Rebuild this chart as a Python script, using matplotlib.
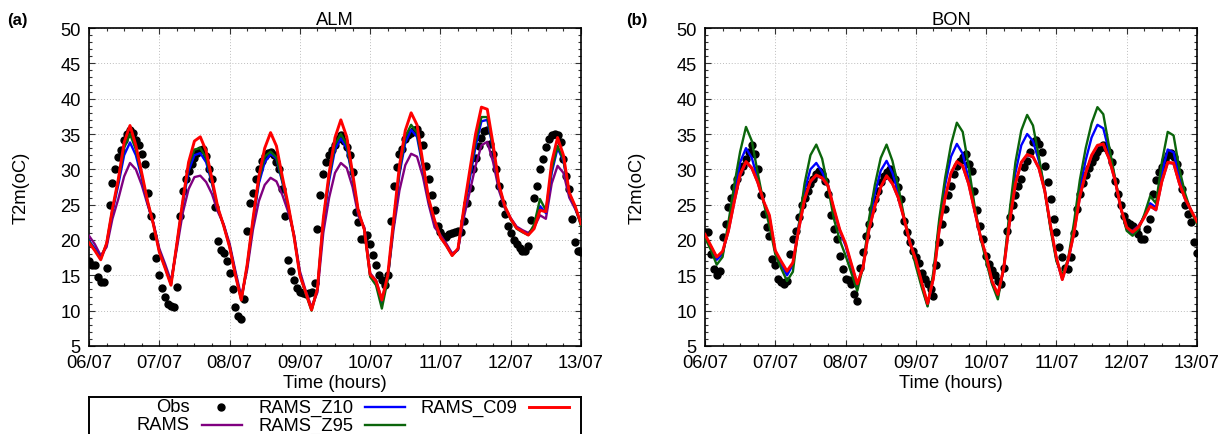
import numpy as np
import matplotlib
matplotlib.use("Agg")
import matplotlib.pyplot as plt
from matplotlib.ticker import MultipleLocator, FixedLocator

plt.rcParams["font.family"] = ["Liberation Sans", "DejaVu Sans"]

# Eje temporal: obs horarias, modelos cada 2 h (06/07 00h -> 13/07 00h)
DAY_LABELS = ["06/07", "07/07", "08/07", "09/07", "10/07", "11/07", "12/07", "13/07"]
STATIONS = ["ALM", "BON"]
PANELS = ["(a)", "(b)"]

# ---------------- ALM ----------------
alm_obs = [
    17.0, 16.4, 16.5, 14.8, 14.0, 14.0, 16.1, 24.9, 28.1, 30.0, 31.7, 32.8,
    34.1, 35.0, 35.6, 35.2, 34.2, 33.4, 32.2, 30.8, 26.7, 23.4, 20.5, 17.5,
    15.0, 13.2, 12.0, 11.0, 10.6, 10.5, 13.3, 23.4, 26.9, 28.6, 29.7, 30.7,
    31.6, 32.3, 32.8, 32.9, 31.9, 30.0, 28.6, 24.6, 19.8, 18.6, 18.2, 17.0,
    15.3, 13.0, 10.5, 9.2, 8.8, 11.6, 21.3, 25.3, 26.7, 28.6, 30.0, 31.2,
    31.9, 32.3, 32.4, 32.0, 31.0, 30.0, 27.2, 23.4, 17.2, 15.6, 14.4, 13.2,
    12.7, 12.5, 12.3, 12.5, 12.7, 13.9, 21.5, 26.4, 29.3, 31.1, 32.0, 32.8,
    33.5, 34.3, 34.8, 34.0, 33.1, 32.0, 29.6, 24.0, 22.5, 20.2, 20.2, 20.7,
    19.4, 17.9, 16.4, 15.1, 14.4, 13.6, 15.1, 22.7, 27.7, 30.3, 32.2, 32.9,
    34.3, 34.8, 35.2, 35.5, 35.7, 35.0, 33.4, 30.5, 28.6, 26.3, 24.2, 22.0,
    21.1, 20.6, 20.4, 20.8, 21.0, 21.2, 21.3, 21.2, 22.7, 25.3, 27.4, 30.0,
    31.6, 33.3, 34.5, 35.4, 35.5, 33.6, 32.2, 30.0, 27.7, 25.3, 23.7, 22.0,
    21.0, 20.0, 19.4, 18.8, 18.4, 18.4, 19.2, 22.9, 26.0, 27.7, 30.0, 31.5,
    33.1, 34.3, 34.8, 35.0, 34.8, 33.8, 31.5, 29.1, 27.2, 23.0, 19.7, 18.5,
    18.3,
]
alm_rams = [
    20.6, 19.4, 17.8, 19.0, 23.0, 25.8, 29.0, 30.9, 30.0, 27.8, 25.0, 22.4,
    18.8, 16.6, 14.2, 18.8, 23.8, 27.2, 28.9, 29.1, 28.2, 26.5, 24.0, 22.2,
    19.5, 15.6, 12.0, 15.8, 21.5, 25.5, 27.8, 28.8, 28.3, 26.4, 24.0, 20.8,
    15.6, 12.8, 10.5, 12.6, 21.0, 26.0, 29.5, 30.9, 30.2, 27.5, 23.4, 21.8,
    15.3, 14.3, 11.6, 14.6, 21.5, 27.0, 30.6, 32.2, 31.8, 29.0, 25.0, 21.8,
    20.7, 19.5, 18.1, 18.6, 23.2, 26.8, 30.5, 33.4, 33.9, 31.0, 27.0, 24.5,
    23.1, 21.9, 21.4, 21.0, 21.8, 23.5, 23.0, 28.0, 30.5, 29.5, 26.0, 24.4,
    22.4,
]
alm_z10 = [
    19.9, 18.8, 17.4, 19.3, 24.0, 27.8, 32.0, 33.8, 32.0, 28.8, 25.2, 22.3,
    18.5, 16.2, 13.8, 19.3, 25.0, 29.8, 32.0, 32.3, 31.0, 28.0, 24.4, 22.1,
    19.2, 15.3, 11.6, 16.2, 22.6, 28.0, 31.0, 32.2, 31.5, 28.2, 24.7, 20.6,
    15.2, 12.5, 10.2, 13.0, 22.5, 28.4, 32.8, 34.4, 33.0, 28.8, 23.8, 21.6,
    15.0, 13.9, 11.0, 14.6, 22.3, 29.3, 33.8, 35.6, 34.6, 30.3, 25.5, 22.6,
    20.5, 19.3, 17.9, 18.6, 24.0, 28.6, 33.2, 36.8, 37.0, 32.8, 27.5, 24.7,
    23.0, 21.8, 21.2, 20.8, 21.8, 24.8, 23.8, 29.5, 33.0, 31.2, 26.5, 24.6,
    22.2,
]
alm_z95 = [
    19.8, 18.6, 17.3, 19.5, 24.3, 28.3, 33.0, 35.0, 32.8, 29.2, 25.4, 22.2,
    18.4, 16.1, 13.7, 19.4, 25.3, 30.5, 32.8, 33.0, 31.6, 28.2, 24.5, 22.0,
    19.1, 15.1, 11.5, 16.4, 22.8, 28.5, 31.8, 32.5, 31.7, 28.4, 24.8, 20.5,
    15.1, 12.4, 10.0, 13.2, 22.8, 29.0, 33.5, 35.0, 33.5, 29.0, 23.9, 21.5,
    14.8, 13.6, 10.3, 14.4, 22.6, 29.8, 34.6, 36.3, 35.2, 30.6, 25.6, 22.7,
    20.4, 19.2, 17.8, 18.7, 24.3, 29.2, 34.0, 37.4, 37.4, 33.0, 27.6, 24.7,
    22.9, 21.6, 21.1, 20.7, 22.2, 25.8, 24.2, 30.0, 33.3, 31.4, 26.6, 24.7,
    22.0,
]
alm_c09 = [
    19.6, 18.5, 17.2, 19.5, 24.4, 28.6, 33.8, 36.2, 33.4, 29.5, 25.5, 22.2,
    18.3, 16.0, 13.6, 19.5, 25.5, 31.0, 34.0, 34.6, 32.6, 28.6, 24.6, 22.0,
    19.0, 15.0, 11.5, 16.5, 23.0, 29.0, 33.0, 35.2, 33.3, 29.0, 25.0, 20.5,
    15.0, 12.6, 10.1, 13.1, 23.0, 29.5, 34.5, 37.0, 34.6, 29.5, 24.0, 21.5,
    15.1, 14.2, 11.5, 15.0, 22.8, 30.5, 35.5, 38.0, 36.3, 31.0, 25.8, 22.8,
    20.4, 19.2, 17.8, 18.8, 24.5, 29.8, 35.0, 38.8, 38.5, 33.5, 27.8, 24.8,
    23.0, 21.7, 21.2, 20.7, 21.6, 24.2, 24.0, 31.0, 34.5, 32.0, 26.7, 24.8,
    22.3,
]

# ---------------- BON ----------------
bon_obs = [
    21.2, 21.1, 18.0, 15.9, 15.0, 15.6, 20.4, 22.3, 24.6, 26.0, 27.5, 28.6,
    29.6, 30.5, 31.5, 32.4, 33.4, 32.2, 30.0, 26.3, 23.7, 21.8, 20.6, 17.3,
    16.4, 14.5, 14.0, 13.8, 14.2, 18.0, 20.2, 21.3, 23.2, 24.9, 26.0, 27.0,
    27.9, 28.6, 29.3, 29.7, 29.3, 28.4, 26.5, 23.5, 21.6, 20.2, 17.8, 15.9,
    14.5, 14.3, 13.8, 12.4, 11.4, 16.1, 18.3, 20.6, 22.3, 24.4, 25.8, 27.0,
    28.2, 29.0, 29.6, 30.0, 29.2, 28.6, 27.5, 25.8, 22.7, 21.1, 19.7, 18.5,
    17.6, 16.8, 15.4, 14.5, 13.8, 13.1, 12.1, 16.4, 19.7, 22.3, 24.4, 26.3,
    27.7, 29.3, 30.5, 31.2, 31.7, 32.2, 30.8, 29.8, 27.0, 24.2, 22.0, 20.2,
    17.8, 16.6, 15.7, 15.0, 14.2, 13.8, 16.1, 21.3, 23.2, 24.9, 26.3, 27.7,
    28.6, 30.3, 31.2, 32.4, 33.8, 34.1, 33.6, 32.4, 30.5, 28.2, 25.8, 23.0,
    21.1, 19.0, 17.6, 16.1, 15.9, 17.6, 21.0, 24.4, 26.5, 28.0, 29.2, 30.2,
    31.0, 31.7, 32.4, 33.0, 33.4, 33.0, 32.4, 31.0, 28.4, 26.5, 24.9, 23.4,
    22.5, 22.3, 22.0, 21.6, 20.8, 20.2, 20.2, 21.5, 23.0, 26.5, 28.5, 29.6,
    30.4, 31.3, 32.0, 32.3, 31.7, 30.8, 29.6, 27.2, 24.9, 23.7, 22.5, 19.7,
    18.2,
]
bon_rams = [
    20.6, 19.1, 17.4, 18.3, 21.2, 25.3, 29.1, 31.0, 30.1, 28.1, 25.4, 23.3,
    18.4, 16.9, 15.5, 16.7, 21.4, 25.7, 28.2, 29.1, 28.7, 27.6, 24.4, 21.4,
    19.4, 16.5, 13.7, 16.1, 21.4, 24.7, 27.4, 29.0, 27.9, 25.9, 22.9, 19.5,
    17.1, 13.9, 11.0, 14.5, 21.4, 25.9, 29.4, 31.0, 30.4, 27.9, 24.2, 20.5,
    17.7, 14.1, 12.2, 15.9, 22.4, 27.9, 30.9, 32.0, 31.7, 30.1, 26.9, 21.9,
    17.4, 14.4, 17.1, 20.9, 26.1, 29.4, 31.9, 33.3, 33.5, 31.4, 28.4, 24.4,
    21.5, 21.3, 22.0, 23.3, 24.8, 24.2, 28.2, 30.9, 30.8, 27.9, 25.7, 24.1,
    22.5,
]
bon_z10 = [
    20.5, 19.0, 17.2, 18.0, 21.8, 26.5, 31.0, 33.0, 31.6, 28.6, 25.5, 23.2,
    18.3, 16.6, 15.0, 16.5, 22.0, 27.0, 30.0, 30.9, 29.6, 27.8, 24.2, 21.3,
    19.2, 16.2, 13.3, 16.4, 22.3, 26.6, 29.8, 31.2, 29.5, 26.7, 23.0, 19.8,
    17.0, 13.6, 10.7, 15.0, 22.3, 27.8, 31.8, 33.6, 32.2, 28.6, 24.5, 20.6,
    17.5, 13.9, 12.0, 16.0, 23.3, 29.5, 33.4, 35.0, 34.0, 31.2, 27.2, 21.8,
    17.2, 14.6, 17.0, 21.5, 27.3, 31.3, 34.5, 36.3, 35.8, 32.5, 28.7, 24.5,
    21.6, 20.9, 21.7, 23.4, 25.2, 24.6, 29.5, 32.8, 32.4, 28.8, 26.0, 24.2,
    22.5,
]
bon_z95 = [
    20.3, 18.6, 16.5, 17.6, 22.5, 27.8, 32.5, 36.0, 34.0, 29.5, 25.3, 22.0,
    18.0, 16.0, 14.2, 15.5, 22.0, 28.0, 32.0, 33.5, 31.5, 27.5, 23.0, 20.0,
    17.8, 15.3, 12.8, 16.3, 23.0, 27.8, 31.6, 33.5, 31.2, 27.6, 23.2, 19.8,
    16.3, 13.3, 10.6, 15.5, 23.0, 28.8, 33.5, 36.6, 35.3, 30.5, 25.0, 20.5,
    17.0, 13.8, 11.6, 16.2, 24.0, 31.0, 35.5, 37.7, 36.2, 31.8, 27.0, 21.5,
    17.0, 15.0, 17.3, 22.5, 28.5, 33.0, 36.5, 38.8, 37.8, 33.2, 28.8, 24.5,
    21.3, 20.6, 21.5, 23.6, 26.2, 25.2, 31.0, 35.3, 34.8, 30.0, 26.5, 24.0,
    22.3,
]
bon_c09 = [
    20.8, 19.2, 17.6, 18.4, 21.3, 25.5, 29.3, 31.1, 30.2, 28.2, 25.5, 23.5,
    18.5, 17.0, 15.6, 16.8, 21.5, 25.8, 28.3, 29.2, 28.8, 27.7, 24.5, 21.5,
    19.5, 16.6, 13.8, 16.2, 21.5, 24.8, 27.5, 29.1, 28.0, 26.0, 23.0, 19.6,
    17.2, 14.0, 11.0, 14.6, 21.5, 26.0, 29.5, 31.1, 30.5, 28.0, 24.3, 20.6,
    17.8, 14.2, 12.3, 16.0, 22.5, 28.0, 31.0, 32.1, 31.8, 30.2, 27.0, 22.0,
    17.5, 14.4, 17.2, 21.0, 26.2, 29.5, 32.0, 33.4, 33.6, 31.5, 28.5, 24.5,
    21.8, 21.1, 21.8, 23.2, 24.8, 24.3, 28.3, 31.0, 30.9, 28.0, 25.8, 24.2,
    22.6,
]

DATA = {
    "ALM": {"Obs": alm_obs, "RAMS": alm_rams, "RAMS_Z10": alm_z10,
            "RAMS_Z95": alm_z95, "RAMS_C09": alm_c09},
    "BON": {"Obs": bon_obs, "RAMS": bon_rams, "RAMS_Z10": bon_z10,
            "RAMS_Z95": bon_z95, "RAMS_C09": bon_c09},
}
MODELS = ["RAMS", "RAMS_Z10", "RAMS_Z95", "RAMS_C09"]
COLORS = {"RAMS": "#800080", "RAMS_Z10": "#0000FF",
          "RAMS_Z95": "#0B650B", "RAMS_C09": "#FF0000"}
LW = {"RAMS": 1.7, "RAMS_Z10": 1.7, "RAMS_Z95": 1.7, "RAMS_C09": 2.1}

for st in STATIONS:
    assert len(DATA[st]["Obs"]) == 169, (st, len(DATA[st]["Obs"]))
    for m in MODELS:
        assert len(DATA[st][m]) == 85, (st, m, len(DATA[st][m]))

t_obs = np.arange(len(alm_obs))
t_mod = np.arange(len(alm_c09)) * 2

W, H = 1220, 435
FS = 13.2
fig = plt.figure(figsize=(W / 100, H / 100), dpi=100)

lefts = [89, 705]
top, bottom, width = 29, 347, 492
for i, st in enumerate(STATIONS):
    ax = fig.add_axes([lefts[i] / W, 1 - bottom / H, width / W, (bottom - top) / H])
    ax.plot(t_obs, DATA[st]["Obs"], "o", color="black", ms=5, zorder=2)
    for m in MODELS:
        ax.plot(t_mod, DATA[st][m], color=COLORS[m], lw=LW[m], zorder=3)
    ax.set_xlim(0, 168)
    ax.set_ylim(5, 50)
    ax.xaxis.set_major_locator(FixedLocator(np.arange(0, 169, 24)))
    ax.set_xticklabels(DAY_LABELS)
    ax.xaxis.set_minor_locator(MultipleLocator(6))
    ax.yaxis.set_major_locator(MultipleLocator(5))
    ax.yaxis.set_minor_locator(MultipleLocator(1))
    ax.tick_params(which="both", direction="in", top=True, right=True,
                   labelsize=FS, width=0.8, color="#333333")
    ax.tick_params(which="major", length=4, pad=6)
    ax.tick_params(which="minor", length=2)
    ax.grid(True, which="major", color="#bdbdbd", linestyle=(0, (1, 2)), linewidth=0.7)
    for s in ax.spines.values():
        s.set_linewidth(1.2)
    ax.set_title(st, fontsize=FS, pad=3)
    ax.set_xlabel("Time (hours)", fontsize=FS, va="center")
    ax.xaxis.set_label_coords(0.5, -0.116)
    ax.set_ylabel("T2m(oC)", fontsize=FS, va="center")
    ax.yaxis.set_label_coords(-0.138, 0.5)
    fig.text((17 if i == 0 else 637) / W, 1 - 20 / H, PANELS[i],
             fontsize=12, fontweight="bold", ha="center", va="center")

# leyenda tipo gnuplot (texto a la derecha + muestra), bajo el panel (a)
lg = fig.add_axes([89 / W, 1 - 460 / H, 492 / W, 62 / H])
lg.set_xlim(89, 581)
lg.set_ylim(460, 398)
lg.set_xticks([])
lg.set_yticks([])
for s in lg.spines.values():
    s.set_linewidth(1.4)
entries = [("Obs", 190, 408), ("RAMS_Z10", 353, 408), ("RAMS_C09", 517, 408),
           ("RAMS", 190, 426), ("RAMS_Z95", 353, 426)]
for name, xr, yc in entries:
    lg.text(xr, yc, name, ha="right", va="center", fontsize=FS)
    if name == "Obs":
        lg.plot([xr + 31], [yc], "o", color="black", ms=5)
    else:
        lg.plot([xr + 12, xr + 52], [yc, yc], color=COLORS[name], lw=LW[name])

fig.savefig("out.png", dpi=100)
